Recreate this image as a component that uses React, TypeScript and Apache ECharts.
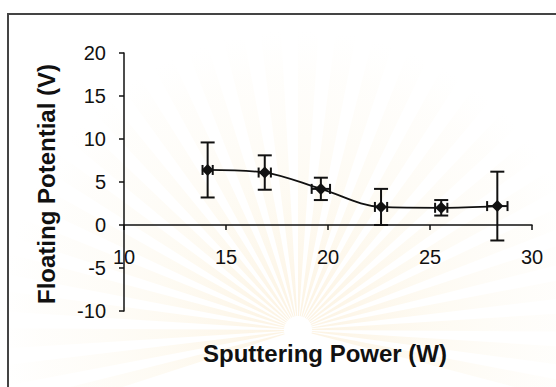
import React, { useEffect, useRef } from "react";
import * as echarts from "echarts";

// Sputtering power (W) and measured floating potential (V)
const powers = [14.1, 16.9, 19.65, 22.6, 25.55, 28.3];
const potentials = [6.4, 6.1, 4.2, 2.1, 2.0, 2.2];
// symmetric error bars
const potentialErr = [3.2, 2.0, 1.3, 2.1, 0.9, 4.0];
const powerErr = [0.25, 0.3, 0.45, 0.3, 0.3, 0.5];

const xTitle = "Sputtering Power (W)";
const yTitle = "Floating Potential (V)";

const FONT = "'Liberation Sans', Arial, sans-serif";
const INK = "#111";

const GRID_TOP = 53;
const GRID_BOTTOM = 76;
const Y_MIN = -10;
const Y_MAX = 20;

// pale sunburst printed behind the plot
function sunburst() {
  const rays: any[] = [];
  const n = 30;
  const cx = 298;
  const cy = 330;
  const r = 300;
  const start = Math.PI * 0.9;
  const end = Math.PI * 2.1;
  const step = (end - start) / n;
  for (let k = 0; k < n; k++) {
    const a = start + k * step;
    rays.push({
      type: "sector",
      silent: true,
      z: -10,
      shape: { cx, cy, r0: 14, r, startAngle: a, endAngle: a + step * 0.55 },
      style: {
        fill: new echarts.graphic.RadialGradient(cx, cy, r, [
          { offset: 0, color: "rgba(242, 198, 120, 0.22)" },
          { offset: 0.45, color: "rgba(246, 222, 165, 0.14)" },
          { offset: 0.85, color: "rgba(248, 236, 205, 0.08)" },
          { offset: 1, color: "rgba(250, 242, 220, 0.0)" },
        ], true),
      },
    });
  }
  return rays;
}

export default function App() {
  const ref = useRef<HTMLDivElement>(null);

  useEffect(() => {
    document.body.style.margin = "0";
    document.documentElement.style.overflow = "hidden";
    const chart = echarts.init(ref.current!, undefined, { renderer: "svg" });

    const points = powers.map((p, i) => [p, potentials[i]]);
    const errData = powers.map((p, i) => [p, potentials[i], powerErr[i], potentialErr[i]]);

    // lift the horizontal axis (with its labels) up to the zero line
    const plotH = 387 - GRID_TOP - GRID_BOTTOM;
    const zeroOffset = (plotH * (0 - Y_MIN)) / (Y_MAX - Y_MIN);

    chart.setOption({
      animation: false,
      backgroundColor: "#fff",
      grid: { left: 124, right: 24, top: GRID_TOP, bottom: GRID_BOTTOM },
      xAxis: {
        type: "value",
        min: 10,
        max: 30,
        interval: 5,
        offset: -zeroOffset,
        axisLine: { onZero: false, lineStyle: { color: INK, width: 1.5 } },
        axisTick: { length: 5, lineStyle: { color: INK, width: 1.5 } },
        axisLabel: { margin: 22, fontSize: 20, color: INK, fontFamily: FONT },
        splitLine: { show: false },
      },
      yAxis: {
        type: "value",
        min: Y_MIN,
        max: Y_MAX,
        interval: 5,
        axisLine: { show: true, onZero: false, lineStyle: { color: INK, width: 1.5 } },
        axisTick: { show: true, length: 5, lineStyle: { color: INK, width: 1.5 } },
        axisLabel: { margin: 18, fontSize: 20, color: INK, fontFamily: FONT },
        splitLine: { show: false },
      },
      graphic: [
        ...sunburst(),
        {
          type: "polyline",
          shape: { points: [[8, 420], [8, 14], [620, 14]] },
          style: { fill: "none", stroke: "#444", lineWidth: 2 },
          silent: true,
        },
        {
          type: "text",
          x: 325,
          y: 353,
          style: {
            text: xTitle,
            font: `bold 24px ${FONT}`,
            fill: INK,
            align: "center",
            verticalAlign: "middle",
          },
        },
        {
          type: "text",
          x: 46,
          y: 184,
          rotation: Math.PI / 2,
          style: {
            text: yTitle,
            font: `bold 24px ${FONT}`,
            fill: INK,
            align: "center",
            verticalAlign: "middle",
          },
        },
      ],
      series: [
        {
          type: "custom",
          data: errData,
          z: 3,
          renderItem: (params: any, api: any) => {
            const x = api.value(0);
            const y = api.value(1);
            const xe = api.value(2);
            const ye = api.value(3);
            const top = api.coord([x, y + ye]);
            const bot = api.coord([x, y - ye]);
            const lft = api.coord([x - xe, y]);
            const rgt = api.coord([x + xe, y]);
            const cap = 7;
            const xcap = 5;
            const style = { stroke: INK, lineWidth: 2 };
            const ln = (x1: number, y1: number, x2: number, y2: number) => ({
              type: "line",
              shape: { x1, y1, x2, y2 },
              style,
            });
            return {
              type: "group",
              children: [
                ln(top[0], top[1], bot[0], bot[1]),
                ln(top[0] - cap, top[1], top[0] + cap, top[1]),
                ln(bot[0] - cap, bot[1], bot[0] + cap, bot[1]),
                ln(lft[0], lft[1], rgt[0], rgt[1]),
                ln(lft[0], lft[1] - xcap, lft[0], lft[1] + xcap),
                ln(rgt[0], rgt[1] - xcap, rgt[0], rgt[1] + xcap),
              ],
            };
          },
        },
        {
          type: "line",
          data: points,
          smooth: 0.35,
          z: 4,
          symbol: "diamond",
          symbolSize: 12,
          lineStyle: { color: INK, width: 1.8 },
          itemStyle: { color: INK },
        },
      ],
    });

    return () => chart.dispose();
  }, []);

  return (
    <div
      ref={ref}
      style={{ position: "fixed", left: 0, top: 0, width: 556, height: 387 }}
    />
  );
}
